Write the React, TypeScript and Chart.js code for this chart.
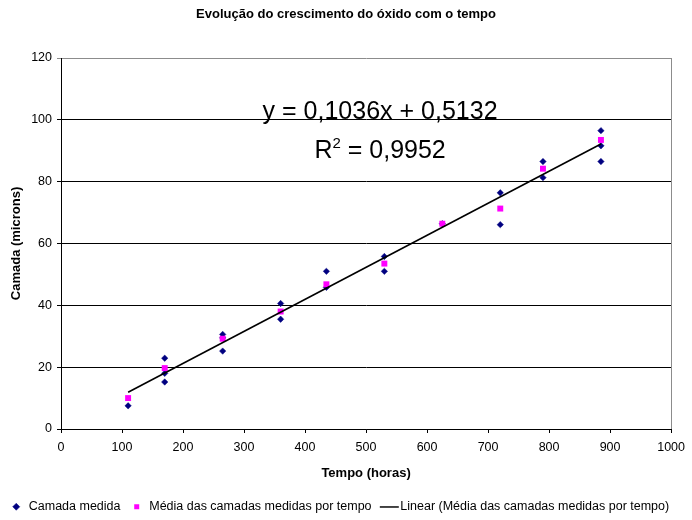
import React, { useEffect, useRef } from "react";
import { Chart, registerables } from "chart.js";

Chart.register(...registerables);

// ---- Text ----
const TITLE = "Evolução do crescimento do óxido com o tempo";
const X_TITLE = "Tempo (horas)";
const Y_TITLE = "Camada (microns)";
const SERIES_CAMADA = "Camada medida";
const SERIES_MEDIA = "Média das camadas medidas por tempo";
const SERIES_LINEAR = "Linear (Média das camadas medidas por tempo)";

// ---- Data ----
const camadaTempo = [110, 170, 170, 170, 265, 265, 265, 360, 360, 435, 435, 530, 530, 625, 720, 720, 790, 790, 885, 885, 885];
const camadaValor = [7.5, 22.9, 18, 15.2, 30.6, 29.5, 25.2, 40.6, 35.5, 51, 45.8, 55.8, 51, 66.4, 76.4, 66.1, 86.5, 81.3, 96.5, 91.6, 86.5];
const mediaTempo = [110, 170, 265, 360, 435, 530, 625, 720, 790, 885];
const mediaValor = [10, 19.7, 29.2, 38, 46.8, 53.5, 66.4, 71.3, 84.2, 93.5];

// trendline (Excel linear fit shown on the chart)
const TREND_SLOPE = 0.1036;
const TREND_INTERCEPT = 0.5132;
const R2_VALUE = "0,9952";

// axes
const X_MIN = 0;
const X_MAX = 1000;
const X_STEP = 100;
const Y_MIN = 0;
const Y_MAX = 120;
const Y_STEP = 20;

const FONT = '"Liberation Sans", Arial, Helvetica, sans-serif';

const fmt = (v: number) => String(v).replace(".", ",");

const equationPlugin = {
  id: "equationLabel",
  afterDatasetsDraw(chart: any) {
    const { ctx, scales } = chart;
    const x = scales.x;
    const y = scales.y;
    const cx = x.getPixelForValue(523);
    const b1 = y.getPixelForValue(100.2);
    const b2 = y.getPixelForValue(87.8);
    const big = `25px ${FONT}`;
    const small = `15px ${FONT}`;
    ctx.save();
    ctx.fillStyle = "#000";
    ctx.textBaseline = "alphabetic";
    ctx.font = big;
    ctx.textAlign = "center";
    ctx.fillText(`y = ${fmt(TREND_SLOPE)}x + ${fmt(TREND_INTERCEPT)}`, cx, b1);
    ctx.textAlign = "left";
    const wR = ctx.measureText("R").width;
    const rest = ` = ${R2_VALUE}`;
    const wRest = ctx.measureText(rest).width;
    ctx.font = small;
    const w2 = ctx.measureText("2").width;
    const sx = cx - (wR + w2 + wRest) / 2;
    ctx.font = big;
    ctx.fillText("R", sx, b2);
    ctx.font = small;
    ctx.fillText("2", sx + wR, b2 - 10);
    ctx.font = big;
    ctx.fillText(rest, sx + wR + w2, b2);
    ctx.restore();
  },
};

const frameRightPlugin = {
  id: "frameRight",
  beforeDatasetsDraw(chart: any) {
    const { ctx, chartArea } = chart;
    ctx.save();
    ctx.strokeStyle = "#8c8c8c";
    ctx.lineWidth = 1;
    const xr = Math.round(chartArea.right) + 0.5;
    ctx.beginPath();
    ctx.moveTo(xr, chartArea.top);
    ctx.lineTo(xr, chartArea.bottom);
    ctx.stroke();
    ctx.restore();
  },
};

export default function App() {
  const canvasRef = useRef<HTMLCanvasElement | null>(null);

  useEffect(() => {
    if (!canvasRef.current) return;

    // legend symbol for the trendline: short horizontal line
    const lineImg = document.createElement("canvas");
    lineImg.width = 24;
    lineImg.height = 3;
    const lc = lineImg.getContext("2d");
    if (lc) {
      lc.fillStyle = "#000";
      lc.fillRect(4, 1, 19, 1.6);
    }

    const trendXs = [Math.min(...mediaTempo), Math.max(...mediaTempo)];

    const chart = new Chart(canvasRef.current, {
      type: "scatter",
      data: {
        datasets: [
          {
            label: SERIES_CAMADA,
            data: camadaTempo.map((t, i) => ({ x: t, y: camadaValor[i] })),
            pointStyle: "rectRot",
            pointRadius: 3.2,
            backgroundColor: "#000080",
            borderColor: "#000080",
            borderWidth: 0.5,
            order: 2,
          },
          {
            label: SERIES_MEDIA,
            data: mediaTempo.map((t, i) => ({ x: t, y: mediaValor[i] })),
            pointStyle: "rect",
            pointRadius: 4.2,
            backgroundColor: "#ff00ff",
            borderColor: "#ff00ff",
            borderWidth: 0,
            order: 1,
          },
          {
            label: SERIES_LINEAR,
            data: trendXs.map((t) => ({ x: t, y: TREND_SLOPE * t + TREND_INTERCEPT })),
            showLine: true,
            pointRadius: 0,
            pointStyle: lineImg as any,
            borderColor: "#000",
            backgroundColor: "#000",
            borderWidth: 1.6,
            order: 0,
          } as any,
        ],
      },
      options: {
        responsive: false,
        animation: false,
        events: [],
        layout: { padding: { top: 0, left: 0, right: 0, bottom: -3 } },
        plugins: {
          tooltip: { enabled: false },
          title: {
            display: true,
            text: TITLE,
            color: "#000",
            font: { family: FONT, size: 13, weight: "bold" },
            padding: { top: 6.2, bottom: 36.2 },
          },
          legend: {
            position: "bottom",
            align: "start",
            labels: {
              usePointStyle: true,
              boxWidth: 12.5,
              boxHeight: 5,
              padding: 10,
              color: "#000",
              font: { family: FONT, size: 12.5 },
              sort: (a: any, b: any) => a.datasetIndex - b.datasetIndex,
            },
          },
        },
        scales: {
          x: {
            type: "linear",
            min: X_MIN,
            max: X_MAX,
            afterFit: (scale: any) => {
              scale.height = 61.5;
            },
            ticks: {
              stepSize: X_STEP,
              color: "#000",
              padding: 7,
              maxRotation: 0,
              font: { family: FONT, size: 12.5 },
              callback: (v: any) => String(v),
            },
            grid: {
              display: true,
              drawOnChartArea: false,
              drawTicks: true,
              tickLength: 4,
              color: "#000",
            },
            border: { display: true, color: "#000", width: 1 },
            title: {
              display: true,
              text: X_TITLE,
              color: "#000",
              font: { family: FONT, size: 13, weight: "bold" },
              padding: { top: 0, bottom: 9.7 },
            },
          },
          y: {
            type: "linear",
            min: Y_MIN,
            max: Y_MAX,
            afterFit: (scale: any) => {
              scale.width = 61;
            },
            ticks: {
              stepSize: Y_STEP,
              color: "#000",
              padding: 5,
              font: { family: FONT, size: 12.5 },
              callback: (v: any) => String(v),
            },
            grid: {
              display: true,
              drawTicks: true,
              tickLength: 4,
              color: (c: any) => (c.tick && c.tick.value === Y_MAX ? "#8c8c8c" : "#000"),
              lineWidth: 1,
            },
            border: { display: true, color: "#000", width: 1 },
            title: {
              display: true,
              text: Y_TITLE,
              color: "#000",
              font: { family: FONT, size: 13, weight: "bold" },
              padding: { top: 9, bottom: 0 },
            },
          },
          // empty right-hand margin box (no ticks, no grid, no border)
          yRight: {
            type: "linear",
            position: "right",
            display: true,
            min: Y_MIN,
            max: Y_MAX,
            afterFit: (scale: any) => {
              scale.width = 16;
            },
            ticks: { display: false },
            grid: { display: false, drawTicks: false },
            border: { display: false },
          },
        },
      } as any,
      plugins: [frameRightPlugin, equationPlugin],
    });

    return () => chart.destroy();
  }, []);

  return (
    <div style={{ position: "absolute", left: 0, top: 0, width: 692, height: 520, background: "#fff" }}>
      <canvas ref={canvasRef} width={692} height={520} style={{ width: 692, height: 520, display: "block" }} />
    </div>
  );
}
